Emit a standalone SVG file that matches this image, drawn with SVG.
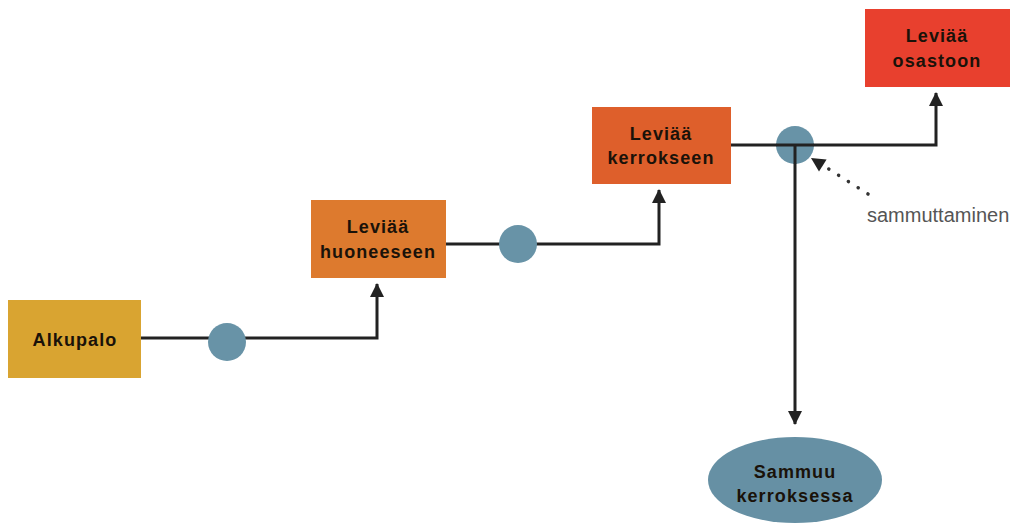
<svg xmlns="http://www.w3.org/2000/svg" width="1019" height="525" viewBox="0 0 1019 525">
<style>
.lbl{font-family:"Liberation Sans",Arial,sans-serif;font-weight:bold;font-size:18px;letter-spacing:1.1px;fill:#1a1209;text-anchor:middle}
.con{fill:none;stroke:#222;stroke-width:3}
.dot{fill:#6893a7}
.note{font-family:"Liberation Sans",Arial,sans-serif;font-size:20px;fill:#555;text-anchor:start}
</style>
<defs>
<marker id="ah" viewBox="0 0 14 14" refX="13" refY="7" markerWidth="14" markerHeight="14" orient="auto" markerUnits="userSpaceOnUse">
<path d="M0,0 L14,7 L0,14 z" fill="#222"/>
</marker>
</defs>
<rect width="1019" height="525" fill="#fff"/>
<g id="connectors">
<path class="con" d="M141,338 H377 V284" marker-end="url(#ah)"/>
<path class="con" d="M446,244 H659 V190" marker-end="url(#ah)"/>
<path class="con" d="M731,145 H936 V93" marker-end="url(#ah)"/>
<path class="con" d="M795,145 V424" marker-end="url(#ah)"/>
<path d="M868,194 L824,166" fill="none" stroke="#333" stroke-width="3.5" stroke-dasharray="0.1 11.5" stroke-linecap="round"/>
<path d="M811,158 L826.6,159.6 L819,171.4 z" fill="#222"/>
<circle class="dot" cx="227" cy="342" r="19"/>
<circle class="dot" cx="518" cy="244" r="19"/>
<circle class="dot" cx="795" cy="145" r="19"/>
<path class="con" d="M776,145 H814 M795,145 V164"/>
</g>
<g id="alkupalo">
<rect x="8" y="300" width="133" height="78" fill="#d9a431"/>
<text class="lbl" x="75" y="346">Alkupalo</text>
</g>
<g id="huoneeseen">
<rect x="311" y="200" width="135" height="78" fill="#dd7a2e"/>
<text class="lbl" x="378" y="233">Leviää</text>
<text class="lbl" x="378" y="258">huoneeseen</text>
</g>
<g id="kerrokseen">
<rect x="592" y="107" width="139" height="77" fill="#de5f2b"/>
<text class="lbl" x="661" y="140">Leviää</text>
<text class="lbl" x="661" y="164">kerrokseen</text>
</g>
<g id="osastoon">
<rect x="865" y="9" width="145" height="78" fill="#e8402e"/>
<text class="lbl" x="937" y="42">Leviää</text>
<text class="lbl" x="937" y="67">osastoon</text>
</g>
<g id="sammuu">
<ellipse cx="795" cy="480" rx="87" ry="43" fill="#6690a4"/>
<text class="lbl" x="795" y="478">Sammuu</text>
<text class="lbl" x="795" y="502">kerroksessa</text>
</g>
<g id="sammuttaminen">
<text class="note" x="867" y="222">sammuttaminen</text>
</g>
</svg>
